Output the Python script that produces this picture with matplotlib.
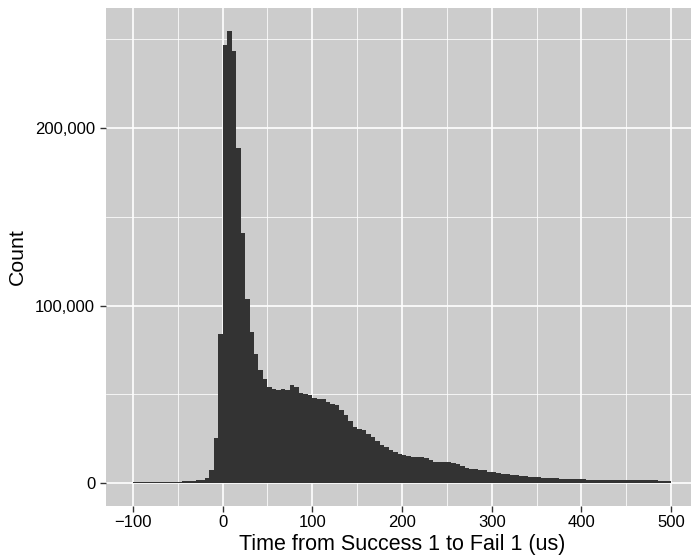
import numpy as np
import matplotlib
matplotlib.use("Agg")
import matplotlib.pyplot as plt
from matplotlib.ticker import FuncFormatter, MultipleLocator

# ---- data: histogram counts, bin width 5, from -100 to 500 ----
bin_width = 5
bin_start = -100
counts_neg = [380, 390, 400, 410, 420, 430, 440, 450, 470, 500, 550,
              900, 950, 1000, 1500, 1600, 2700, 7200, 25300, 83900]
counts_mid = [246500, 254800, 243500, 188500, 140700, 103500, 84800, 72500,
              63400, 58400, 53900, 52700, 52200, 52700, 52200, 55000, 53900,
              51000, 50100, 49400, 47700, 47100, 47100, 45400, 44300, 43700,
              40900, 38100, 34700, 31700, 30200, 29700, 27400, 25700, 23500,
              21200, 20100, 18400, 17300, 16200, 15600, 15000, 14500, 14500,
              14500, 13900, 12800, 11600, 11600, 11600]
counts_tail = [11600, 11100, 10500, 9400, 8300, 7700, 7700, 7100, 7100, 6000,
               6000, 5500, 4900, 4900, 4300, 4300, 3800, 3800, 3200, 3200,
               3200, 2600, 2600, 2600, 2600, 2100, 2100, 2100, 2100, 2100,
               2100] + [1500] * 16 + [900] * 3

counts = np.array(counts_neg + counts_mid + counts_tail)
edges = bin_start + bin_width * np.arange(len(counts))

x_ticks = [-100, 0, 100, 200, 300, 400, 500]
y_ticks = [0, 100000, 200000]

# ---- figure ----
plt.rcParams['font.family'] = ['Liberation Sans', 'DejaVu Sans']
fig = plt.figure(figsize=(6.91, 5.57), dpi=100)

W, H = 691, 557
left_px, top_px, bottom_px = 106, 8, 505.7
xmin, xmax = -130, 530
px_per_unit = 0.897
right_px = left_px + (xmax - xmin) * px_per_unit
ax = fig.add_axes([left_px / W, 1 - bottom_px / H,
                   (right_px - left_px) / W, (bottom_px - top_px) / H])

ax.set_facecolor('#CCCCCC')
ax.bar(edges, counts, width=bin_width, align='edge', color='#333333',
       linewidth=0, zorder=3)

ymax = counts.max()
ax.set_xlim(xmin, xmax)
ax.set_ylim(-0.05 * ymax, 1.05 * ymax)

ax.set_xticks(x_ticks)
ax.set_yticks(y_ticks)
ax.xaxis.set_minor_locator(MultipleLocator(100, offset=50))
ax.yaxis.set_minor_locator(MultipleLocator(100000, offset=50000))
ax.yaxis.set_major_formatter(FuncFormatter(lambda v, p: f'{int(v):,}'))
ax.xaxis.set_major_formatter(FuncFormatter(lambda v, p: f'{int(v)}'.replace('-', '\u2212')))

ax.grid(which='major', color='white', linewidth=1.2, zorder=1)
ax.grid(which='minor', color='white', linewidth=0.55, zorder=1)
ax.set_axisbelow(True)

for s in ax.spines.values():
    s.set_visible(False)

ax.tick_params(which='major', length=4.2, width=1.0, color='#333333',
               labelsize=12, labelcolor='black')
ax.tick_params(axis='y', pad=3.6)
ax.tick_params(axis='x', pad=2.5)
ax.tick_params(which='minor', length=0)

ax.set_xlabel('Time from Success 1 to Fail 1 (us)', fontsize=15.5, labelpad=3)
ax.set_ylabel('Count', fontsize=15.3, labelpad=6)

fig.savefig('out.png', dpi=100)
